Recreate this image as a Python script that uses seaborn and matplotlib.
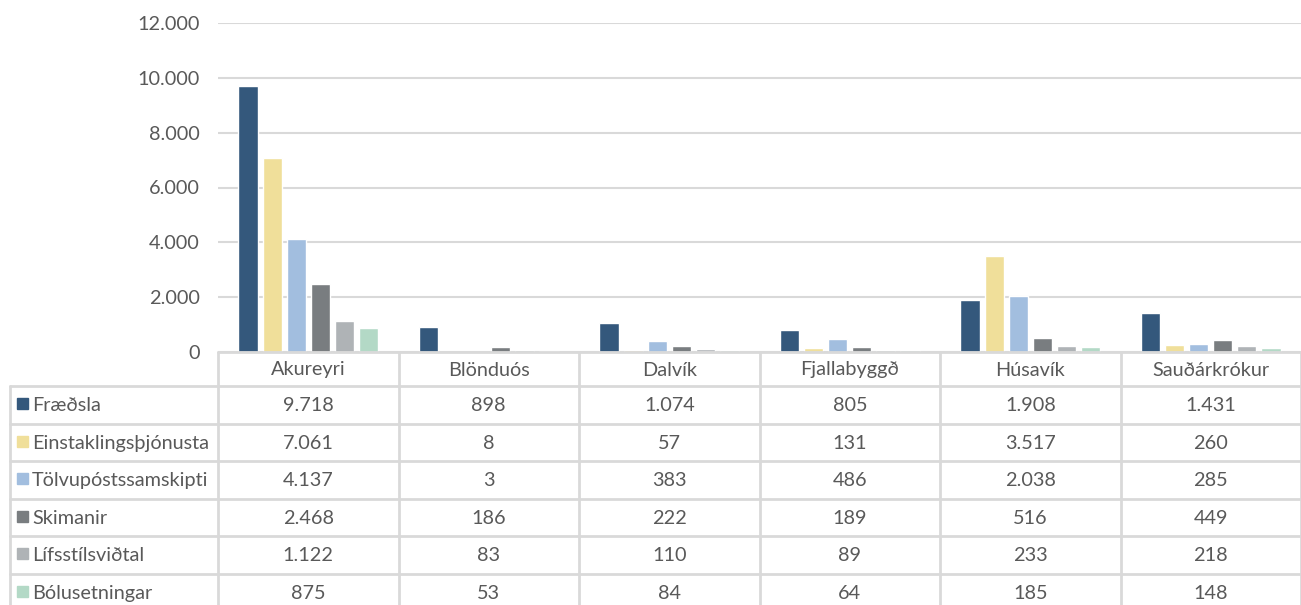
import numpy as np
import pandas as pd
import matplotlib
matplotlib.use("Agg")
import matplotlib.pyplot as plt
import seaborn as sns
from matplotlib.lines import Line2D
from matplotlib.patches import Rectangle

categories = ["Akureyri", "Blönduós", "Dalvík", "Fjallabyggð", "Húsavík", "Sauðárkrókur"]
series = ["Fræðsla", "Einstaklingsþjónusta", "Tölvupóstssamskipti", "Skimanir", "Lífsstílsviðtal", "Bólusetningar"]
fraedsla = [9718, 898, 1074, 805, 1908, 1431]
einstaklings = [7061, 8, 57, 131, 3517, 260]
tolvupost = [4137, 3, 383, 486, 2038, 285]
skimanir = [2468, 186, 222, 189, 516, 449]
lifsstils = [1122, 83, 110, 89, 233, 218]
bolusetningar = [875, 53, 84, 64, 185, 148]
colors = ["#34587C", "#F0DF9A", "#A2BEDF", "#797D80", "#AFB3B6", "#B3D9C6"]
yticks = [0, 2000, 4000, 6000, 8000, 10000, 12000]

values = [fraedsla, einstaklings, tolvupost, skimanir, lifsstils, bolusetningar]
rows = []
for s, vals in zip(series, values):
    for c, v in zip(categories, vals):
        rows.append({"Staður": c, "Flokkur": s, "Fjöldi": v})
df = pd.DataFrame(rows)

sns.set_style("white")
plt.rcParams["font.family"] = ["Lato", "DejaVu Sans"]
TXT = "#595959"
GRID = "#D9D9D9"
FS = 14.3

W, H = 1301, 605
fig = plt.figure(figsize=(W / 100, H / 100), dpi=100)
left, right, top, bottom = 218, 1301, 23, 352
ax = fig.add_axes([left / W, 1 - bottom / H, (right - left) / W, (bottom - top) / H])
sns.barplot(data=df, x="Staður", y="Fjöldi", hue="Flokkur", hue_order=series,
            order=categories, palette=colors, width=0.8, gap=0.2,
            saturation=1, ax=ax, legend=False)
ax.set_xlim(-0.5, len(categories) - 0.5)
ax.set_ylim(0, 12000)
ax.set_yticks(yticks)
ax.set_yticklabels([f"{v:,}".replace(",", ".") for v in yticks], color=TXT, fontsize=FS)
ax.tick_params(axis="y", length=0, pad=13)
ax.set_xticks([])
ax.set_xlabel("")
ax.set_ylabel("")
ax.grid(axis="y", color=GRID, linewidth=1.5)
ax.set_axisbelow(True)
for sp in ax.spines.values():
    sp.set_visible(False)

# data table below, in pixel coordinates
tab = fig.add_axes([0, 0, 1, 1])
tab.set_xlim(0, W)
tab.set_ylim(H, 0)
tab.axis("off")
col_w = (right - left) / len(categories)
hdr_bottom = 386
row_h = 37.5
nrows = len(series)
table_bottom = hdr_bottom + row_h * nrows + 10
lw = 2
for i in range(len(categories) + 1):
    x = left + i * col_w
    tab.add_line(Line2D([x, x], [bottom, table_bottom], color=GRID, lw=lw))
tab.add_line(Line2D([10, 10], [hdr_bottom, table_bottom], color=GRID, lw=lw))
tab.add_line(Line2D([left, right], [bottom, bottom], color=GRID, lw=lw))
for r in range(nrows):
    y = hdr_bottom + r * row_h
    tab.add_line(Line2D([10, right], [y, y], color=GRID, lw=lw))
for i, c in enumerate(categories):
    tab.text(left + (i + 0.5) * col_w, (bottom + hdr_bottom) / 2 + 1, c,
             ha="center", va="center", fontsize=FS, color=TXT)
for r, (s, vals, col) in enumerate(zip(series, values, colors)):
    yc = hdr_bottom + (r + 0.5) * row_h
    tab.add_patch(Rectangle((17, yc - 6.5), 11, 11, color=col))
    tab.text(32, yc + 1, s, ha="left", va="center", fontsize=FS, color=TXT)
    for i, v in enumerate(vals):
        tab.text(left + (i + 0.5) * col_w, yc + 1, f"{v:,}".replace(",", "."),
                 ha="center", va="center", fontsize=FS, color=TXT)

fig.savefig("out.png", dpi=100, facecolor="white")
